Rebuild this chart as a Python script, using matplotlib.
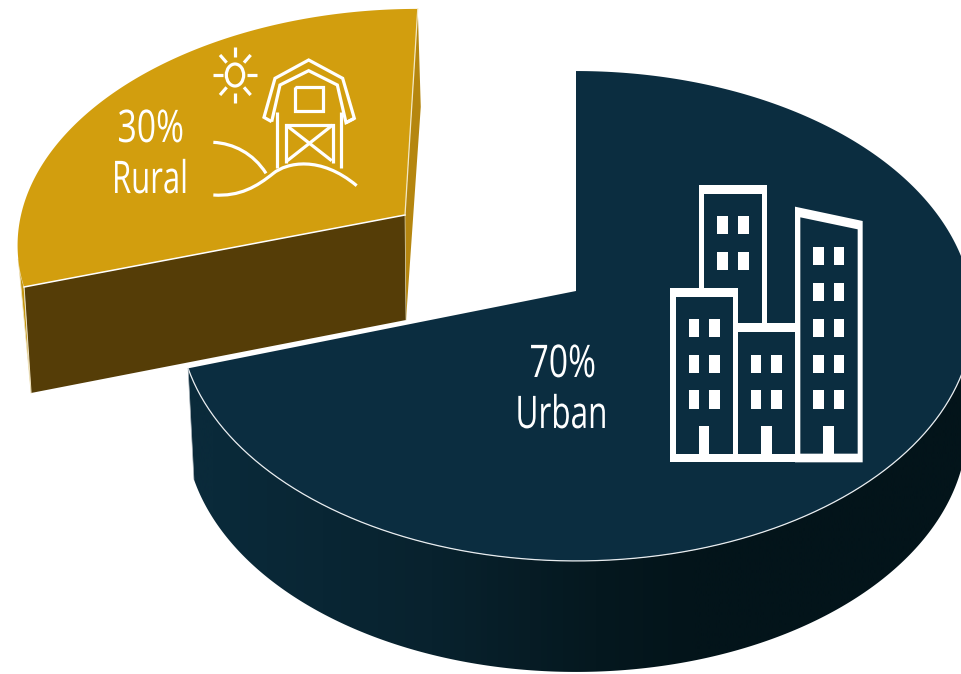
import numpy as np
import matplotlib
matplotlib.use("Agg")
import matplotlib.pyplot as plt
from matplotlib.patches import Polygon, Rectangle, Ellipse, PathPatch
from matplotlib.path import Path
from matplotlib.patheffects import AbstractPathEffect
from matplotlib.transforms import Affine2D
from matplotlib.colors import LinearSegmentedColormap

# Shares of population, clockwise from twelve o'clock
categories = ["Urban", "Rural"]
shares = [70, 30]

NAVY = "#0b2d40"
GOLD = "#d29e0e"
GOLD_SIDE = "#b5860f"
BROWN = "#553d07"
WHITE = "#ffffff"

# Seam between the slices, counter-clockwise from the x axis
seam = 90 - 360 * shares[0] / 100 + 360


def project(theta_deg, apex, w, h, k, skew=0.0):
    """Perspective view of a unit disc, with the disc centre sent to apex."""
    t = np.radians(theta_deg)
    u, v = np.cos(t), np.sin(t)
    d = 1 + k * v
    return np.column_stack([apex[0] + (w * u + skew * v) / d, apex[1] - h * v / d])


class Squeeze(AbstractPathEffect):
    """Condense glyphs horizontally, about the text's left edge."""

    def __init__(self, sx):
        super().__init__()
        self.sx = sx

    def draw_path(self, renderer, gc, tpath, affine, rgbFace=None):
        renderer.draw_path(gc, tpath, Affine2D().scale(self.sx, 1) + affine, rgbFace)


fig = plt.figure(figsize=(9.61, 6.74), dpi=100, facecolor="white")
ax = fig.add_axes([0, 0, 1, 1])
ax.axis("off")

# ---- Urban slice, resting low and to the right ----
U_APEX = (576, 291)
U = dict(apex=U_APEX, w=395, h=242.4, k=0.102)
U_DROP = 111
U_SHRINK = 0.985

top_angles = np.linspace(90, seam - 360, 300)
u_top = project(top_angles, **U)
u_face = np.vstack([[U_APEX], u_top])

wall_angles = np.linspace(seam, 360, 300)
u_rim = project(wall_angles, **U)
u_low = u_rim.copy()
u_low[:, 0] = U_APEX[0] + (u_low[:, 0] - U_APEX[0]) * U_SHRINK
u_low[:, 1] += U_DROP
u_wall = Polygon(np.vstack([u_rim, u_low[::-1]]), closed=True, fc="none", ec="none")
ax.add_patch(u_wall)
shade = LinearSegmentedColormap.from_list(
    "wall", [(0, "#0a2a3a"), (0.22, "#0a2a3a"), (0.45, "#08222e"), (0.62, "#05181f"), (0.72, "#03141a"), (1, "#03141a")]
)
grad = ax.imshow(
    np.linspace(0, 1, 512).reshape(1, -1), cmap=shade, vmin=0, vmax=1,
    extent=(0, 961, 674, 0), aspect="auto", interpolation="bilinear", zorder=1,
)
grad.set_clip_path(u_wall)
ax.add_patch(Polygon(u_face, closed=True, fc=NAVY, ec="none", zorder=2))
ax.plot(u_rim[:, 0], u_rim[:, 1], color="#e8ecef", lw=0.9, zorder=3, solid_capstyle="round")
ax.plot(*np.column_stack([u_rim[0], u_low[0]]), color="#aab4bb", lw=0.5, zorder=3)

# ---- Rural slice, pulled out to the upper left ----
R_APEX = (405, 215)
R = dict(apex=R_APEX, w=384, h=226, k=0.0965, skew=14)
r_angles = np.linspace(90, seam, 200)
r_rim = project(r_angles, **R)
r_start, r_end = r_rim[0], r_rim[-1]
drop_apex = np.array([1, 105])
drop_start = np.array([3, 98])
drop_end = np.array([7, 106])

# Outer wall showing past the top edge on the right
ax.add_patch(Polygon(
    [r_start, r_start + drop_start, np.array(R_APEX) + drop_apex, R_APEX],
    closed=True, fc=GOLD_SIDE, ec="none", zorder=4))
# Outer wall showing at the far left
tail = project(np.linspace(seam - 7, seam, 20), **R)
ax.add_patch(Polygon(
    np.vstack([tail, [r_end + drop_end]]),
    closed=True, fc="#c4950f", ec="#efe3c0", lw=0.6, zorder=4))
# Cut face
cut = np.array([R_APEX, np.array(R_APEX) + drop_apex, r_end + drop_end, r_end])
ax.add_patch(Polygon(cut, closed=True, fc=BROWN, ec="none", zorder=5))
ax.plot(*np.column_stack([r_end, r_end + drop_end]), color="#efe3c0", lw=0.7, zorder=6)
ax.plot(*np.column_stack([np.array(R_APEX), np.array(R_APEX) + drop_apex]), color="#d8cfa8", lw=0.5, zorder=6)
# Top face
ax.add_patch(Polygon(np.vstack([[R_APEX], r_rim]), closed=True, fc=GOLD, ec="none", zorder=6))
ax.plot(*np.column_stack([R_APEX, r_end]), color=WHITE, lw=1.1, zorder=7)
ax.plot(*np.column_stack([R_APEX, r_start]), color="#f3e8c4", lw=0.9, zorder=7)


# ---- City icon, filled shapes ----
def city(x, y):
    return (660 + x / 3, 170 + y / 3)


def box(x0, y0, x1, y1, color):
    (a, b), (c, d) = city(x0, y0), city(x1, y1)
    ax.add_patch(Rectangle((a, b), c - a, d - b, fc=color, ec="none", zorder=8))


def blob(points, color):
    ax.add_patch(Polygon([city(*p) for p in points], closed=True, fc=color, ec="none", zorder=8))


box(118, 45, 320, 480, WHITE)
box(133, 72, 305, 480, NAVY)
for wy in [(139, 193), (247, 301)]:
    for wx in [(171, 203), (233, 266)]:
        box(wx[0], wy[0], wx[1], wy[1], WHITE)

box(31, 353, 234, 877, WHITE)
box(47, 380, 219, 851, NAVY)
for wy in [(447, 501), (554, 608), (661, 716)]:
    for wx in [(86, 118), (148, 181)]:
        box(wx[0], wy[0], wx[1], wy[1], WHITE)
box(117, 769, 148, 860, WHITE)

box(219, 460, 421, 877, WHITE)
box(234, 487, 406, 851, NAVY)
for wy in [(554, 608), (661, 716)]:
    for wx in [(272, 304), (334, 367)]:
        box(wx[0], wy[0], wx[1], wy[1], WHITE)
box(303, 769, 335, 860, WHITE)

blob([(405, 110), (608, 153), (608, 877), (405, 877)], WHITE)
blob([(421, 142), (593, 178), (593, 851), (421, 851)], NAVY)
for wy in [(232, 286), (340, 394), (447, 501), (554, 608), (661, 716)]:
    for wx in [(459, 491), (521, 553)]:
        box(wx[0], wy[0], wx[1], wy[1], WHITE)
box(490, 769, 522, 860, WHITE)


# ---- Barn icon, stroked lines ----
def farm(x, y):
    return (200 + x / 3, 40 + y / 3)


STROKE = 2.3
LINE = dict(color=WHITE, lw=STROKE, zorder=8, solid_capstyle="butt", solid_joinstyle="miter")


def stroke(*points):
    xy = np.array([farm(*p) for p in points])
    ax.plot(xy[:, 0], xy[:, 1], **LINE)


def curve(*points):
    verts = [farm(*p) for p in points]
    codes = [Path.MOVETO] + [Path.CURVE4] * (len(verts) - 1)
    ax.add_patch(PathPatch(Path(verts, codes), fc="none", ec=WHITE, lw=STROKE, zorder=8, capstyle="butt"))


stroke((215, 245), (192, 232), (225, 115), (326, 60), (428, 115), (463, 235), (438, 248))
stroke((215, 245), (240, 135), (326, 92), (412, 135), (438, 248), (463, 235))
stroke((230, 215), (230, 385))
stroke((424, 215), (424, 385))
stroke((285, 140), (370, 140), (370, 212), (285, 212), (285, 140))
stroke((258, 368), (258, 255), (398, 255), (398, 368))
stroke((258, 255), (395, 362))
stroke((398, 255), (262, 362))
curve((40, 465), (120, 470), (170, 440), (220, 400), (260, 368), (360, 345), (470, 437))
curve((40, 307), (100, 310), (160, 340), (198, 400))

cx, cy = farm(105, 105)
ax.add_patch(Ellipse((cx, cy), 52 / 3, 66 / 3, fc="none", ec=WHITE, lw=STROKE, zorder=8))
for p, q in [((105, 20), (105, 50)), ((105, 160), (105, 190)), ((40, 104), (70, 104)),
             ((142, 104), (172, 104)), ((60, 45), (80, 68)), ((152, 45), (132, 68)),
             ((60, 165), (80, 142)), ((152, 165), (132, 142))]:
    stroke(p, q)

# ---- Labels ----
FONT = dict(family="Open Sans", fontsize=32.4, color=WHITE, ha="left", va="baseline", zorder=9)
ax.text(117.5, 142, f"{shares[1]}%", path_effects=[Squeeze(0.75)], **FONT)
ax.text(112, 193, categories[1], path_effects=[Squeeze(0.69)], **FONT)
ax.text(529.5, 377, f"{shares[0]}%", path_effects=[Squeeze(0.75)], **FONT)
ax.text(515.5, 428, categories[0], path_effects=[Squeeze(0.70)], **FONT)

ax.set_xlim(0, 961)
ax.set_ylim(674, 0)
fig.savefig("out.png", dpi=100, facecolor="white")
